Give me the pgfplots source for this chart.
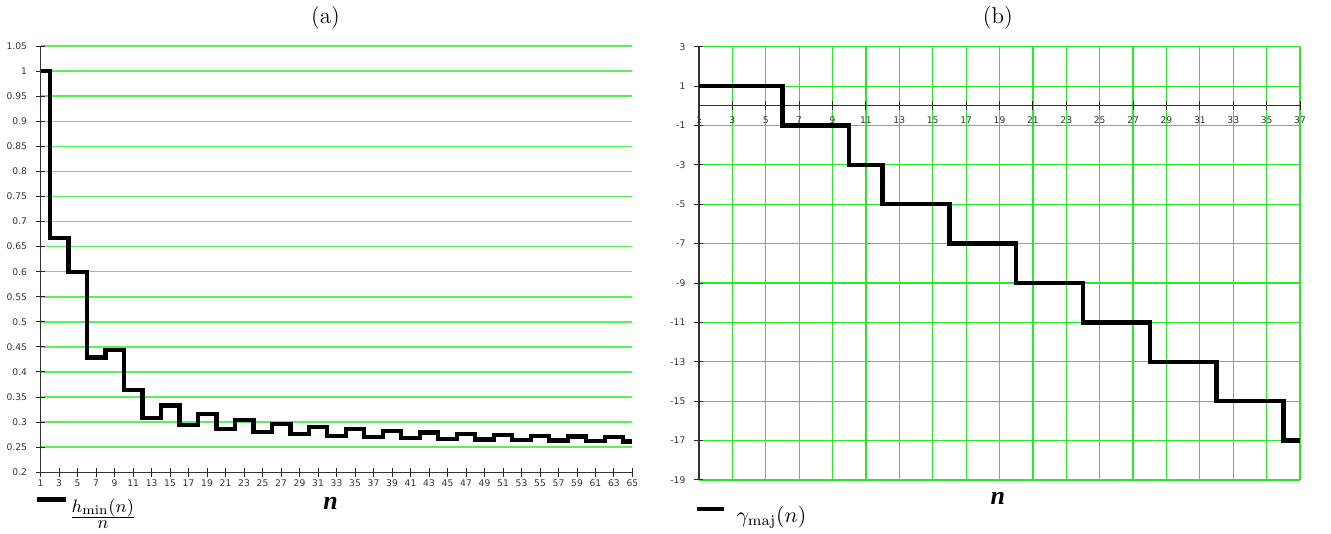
\documentclass[border=0pt]{standalone}
\usepackage{fontspec}
\usepackage{pgfplots}
\usepackage{pgfplotstable}
\pgfplotsset{compat=1.18}
\newfontfamily\tickfont{DejaVu Sans}
\newfontfamily\nfont{Liberation Serif}
\definecolor{gridgreenA}{RGB}{90,240,90}
\definecolor{gridgreenB}{RGB}{40,235,40}

\pgfplotstableread{
x y
1 1
2 0.6667
4 0.6
6 0.4286
8 0.4444
10 0.3636
12 0.3077
14 0.3333
16 0.2941
18 0.3158
20 0.2857
22 0.3043
24 0.28
26 0.2963
28 0.2759
30 0.2903
32 0.2727
34 0.2857
36 0.2703
38 0.2821
40 0.2683
42 0.2791
44 0.2667
46 0.2766
48 0.2653
50 0.2745
52 0.2642
54 0.2727
56 0.2632
58 0.2712
60 0.2623
62 0.2698
64 0.2615
65 0.2615
}\hdata

\pgfplotstableread{
x y
1 1
6 -1
10 -3
12 -5
16 -7
20 -9
24 -11
28 -13
32 -15
36 -17
37 -17
}\gdata

\pgfplotsset{
  common/.style={
    scale only axis,
    anchor=south west,
    tick align=center,
    major tick length=4.5pt,
    tick style={black!85, line width=0.5pt},
    /pgf/number format/assume math mode=true,
    ticklabel style={font=\tickfont\fontsize{4.6}{5}\selectfont, text=black!80},
    legend style={draw=none, fill=none},
  },
  nolinearrows/.style={
    axis line style={-, black!80, line width=0.6pt},
    every inner x axis line/.append style={-},
    every outer x axis line/.append style={-},
    every inner y axis line/.append style={-},
    every outer y axis line/.append style={-},
  },
}

\begin{document}
\begin{tikzpicture}

\begin{axis}[common,
  at={(18.65pt,29.35pt)},
  width=296.7pt, height=213.65pt,
  xmin=1, xmax=65, ymin=0.2, ymax=1.05,
  axis x line=bottom, axis y line=left, nolinearrows,
  xtick={1,3,...,65},
  ytick={0.2,0.25,0.3,0.35,0.4,0.45,0.5,0.55,0.6,0.65,0.7,0.75,0.8,0.85,0.9,0.95,1,1.05},
  yticklabel style={/pgf/number format/fixed, /pgf/number format/precision=2, xshift=-1pt},
  xticklabel style={yshift=2pt},
  ymajorgrids, major grid style={gridgreenA, line width=0.75pt},
  legend image code/.code={\draw[black, line width=2.2pt] (0pt,6.3pt) -- (14.5pt,6.3pt);},
  legend style={at={(axis description cs:0,0)}, anchor=north west, xshift=-6pt, yshift=-9pt,
    font=\fontsize{9.5}{11}\selectfont},
]
\addplot[const plot, black, line width=2.2pt] table[x=x, y=y] {\hdata};
\addlegendentry{\hspace{-1.5pt}$\frac{\textstyle h_{\min}(n)}{\textstyle \rule{0pt}{5pt}n}$}
\end{axis}

\begin{axis}[common,
  at={(348.65pt,25.5pt)},
  width=301.35pt, height=217.15pt,
  xmin=1, xmax=37, ymin=-19, ymax=3,
  axis x line=middle, axis y line=left, nolinearrows,
  hide obscured x ticks=false,
  xtick={1,3,...,37},
  ytick={-19,-17,...,3},
  xticklabel style={yshift=0.5pt},
  yticklabel style={xshift=-1pt},
  xmajorgrids, ymajorgrids, major grid style={gridgreenB, line width=0.6pt},
  legend image code/.code={\draw[black, line width=2.2pt] (0pt,3.5pt) -- (14pt,3.5pt); \path (17pt,3.5pt);},
  legend style={at={(axis description cs:0,0)}, anchor=north west, xshift=-5.5pt, yshift=-9pt,
    font=\fontsize{10.5}{12}\selectfont},
]
\addplot[const plot, black, line width=2.2pt] table[x=x, y=y] {\gdata};
\addlegendentry{$\gamma_{\mathrm{maj}}(n)$}
\node[anchor=north, font=\tickfont\fontsize{4.6}{5}\selectfont, text=black!80, inner sep=0pt]
  at ([yshift=-3.7pt]axis cs:1,0) {1};
\end{axis}

\node[font=\fontsize{11.5}{14}\selectfont] at (161.5pt,257pt) {(a)};
\node[font=\fontsize{11.5}{14}\selectfont] at (498.5pt,257pt) {(b)};
\node[font=\nfont\bfseries\itshape\fontsize{13}{14}\selectfont] at (164pt,13.5pt) {n};
\node[font=\nfont\bfseries\itshape\fontsize{13}{14}\selectfont] at (498.5pt,16.5pt) {n};
\path (0pt,0pt) rectangle (665.5pt,265.5pt);
\end{tikzpicture}
\end{document}
